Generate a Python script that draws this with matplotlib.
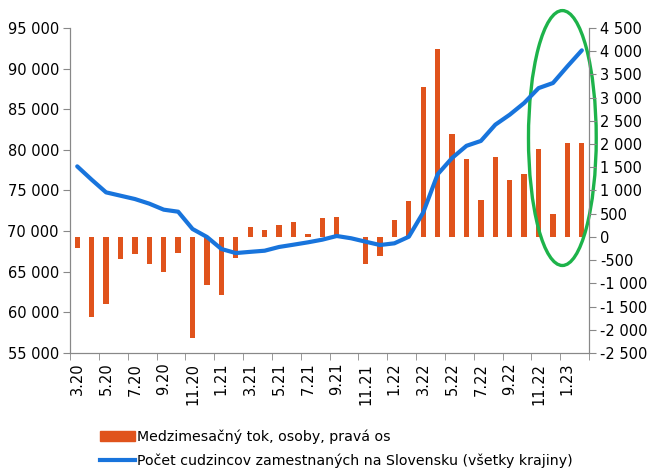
import matplotlib.pyplot as plt
from matplotlib.patches import Ellipse, Patch
from matplotlib.lines import Line2D
from matplotlib.ticker import FuncFormatter

# monthly data 3.20 .. 2.23
flow = [-230, -1714, -1440, -475, -375, -590, -763, -338, -2182, -1044,
        -1260, -446, 216, 144, 252, 324, 73, 397, 432, 0,
        -575, -410, 360, 780, 3226, 4046, 2210, 1670, 792, 1714,
        1217, 1361, 1886, 504, 2030, 2030]
foreigners = [77970, 76330, 74770, 74360, 73950, 73380, 72640, 72390, 70260, 69280,
              67800, 67300, 67450, 67590, 68050, 68330, 68620, 68950, 69400, 69120,
              68700, 68290, 68500, 69310, 72300, 77000, 79000, 80500, 81100, 83100,
              84330, 85770, 87600, 88230, 90280, 92250]
tick_labels = ["3.20", "5.20", "7.20", "9.20", "11.20", "1.21", "3.21", "5.21", "7.21",
               "9.21", "11.21", "1.22", "3.22", "5.22", "7.22", "9.22", "11.22", "1.23"]

bar_color = "#E0531C"
line_color = "#1874DC"
fmt = FuncFormatter(lambda v, p: f"{v:,.0f}".replace(",", " "))


def main():
    fig = plt.figure(figsize=(6.49, 4.72), dpi=100)
    ax = fig.add_axes([0.1079, 0.2521, 0.7997, 0.6886])
    ax2 = ax.twinx()
    ax.set_zorder(ax2.get_zorder() + 1)
    ax.patch.set_visible(False)

    x = list(range(len(flow)))
    ax2.bar(x, flow, width=0.37, color=bar_color)
    ax.plot(x, foreigners, color=line_color, lw=3, solid_capstyle="round")

    ax.set_xlim(-0.5, len(flow) - 0.5)
    ax.set_ylim(55000, 95000)
    ax2.set_ylim(-2500, 4500)
    ax.set_yticks(range(55000, 95001, 5000))
    ax2.set_yticks(range(-2500, 4501, 500))
    ax.yaxis.set_major_formatter(fmt)
    ax2.yaxis.set_major_formatter(fmt)

    ax.set_xticks(x[::2])
    ax.set_xticklabels(tick_labels, rotation=90)
    ax.set_xticks([i - 0.5 for i in range(0, len(flow) + 1, 2)], minor=True)
    ax.tick_params(axis="x", which="major", length=0, pad=7)
    ax.tick_params(axis="x", which="minor", length=5, color="#888888")

    for a in (ax, ax2):
        a.spines["top"].set_visible(False)
        for s in ("left", "right", "bottom"):
            a.spines[s].set_color("#888888")
        a.tick_params(axis="y", length=5, color="#888888", labelsize=10.5, pad=3)
        a.tick_params(axis="x", labelsize=10.5)

    ell = Ellipse((33.65, 2130), 4.7, 5490, fill=False, edgecolor="#1DB34A",
                  lw=2.4, clip_on=False)
    ax2.add_patch(ell)

    handles = [Patch(color=bar_color),
               Line2D([0], [0], color=line_color, lw=3)]
    labels = ["Medzimesačný tok, osoby, pravá os",
              "Počet cudzincov zamestnaných na Slovensku (všetky krajiny)"]
    fig.legend(handles, labels, loc="upper left", bbox_to_anchor=(0.145, 0.102),
               frameon=False, fontsize=10.2, handlelength=2.5, handletextpad=0.15,
               labelspacing=0.65, borderaxespad=0)

    fig.savefig("out.png", dpi=100)


if __name__ == "__main__":
    main()
